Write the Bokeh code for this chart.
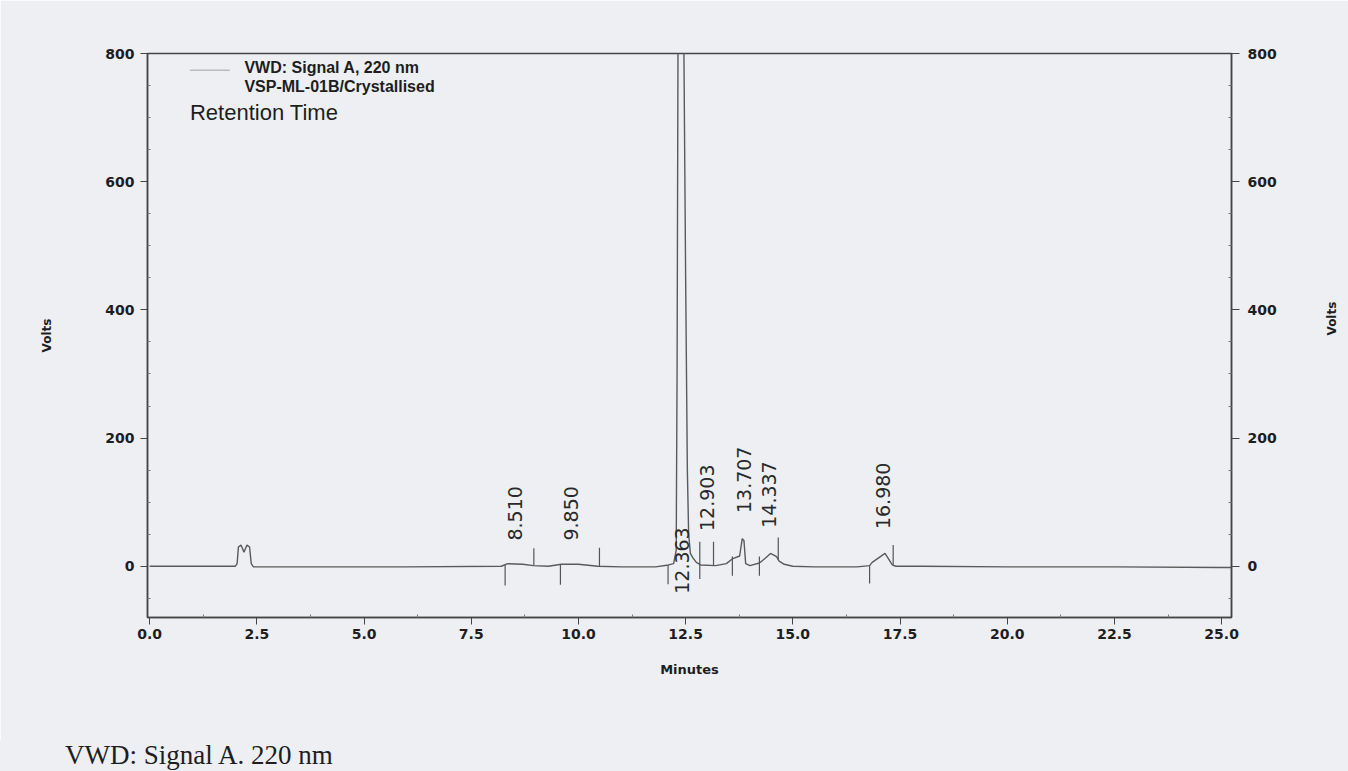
import math
from bokeh.plotting import figure
from bokeh.layouts import column
from bokeh.models import LinearAxis, FixedTicker, Label, Range1d, PrintfTickFormatter, Div
from bokeh.core.properties import value
from bokeh.embed import file_html
from bokeh.resources import INLINE

# ---- data ----
time = [0.0, 2.0, 2.04, 2.07, 2.13, 2.20, 2.27, 2.33, 2.37, 2.42, 4.0, 6.0, 8.2, 8.35, 8.7,
        8.95, 9.3, 9.6, 10.0, 10.45, 11.0, 11.8, 12.1, 12.22, 12.28, 12.30, 12.33, 12.40,
        12.44, 12.46, 12.50, 12.54, 12.57, 12.61, 12.68, 12.75, 12.85, 13.2, 13.45, 13.6,
        13.76, 13.82, 13.86, 13.9, 14.0, 14.22, 14.35, 14.48, 14.62, 14.68, 14.8, 15.0,
        15.5, 16.5, 16.79, 16.85, 17.15, 17.32, 17.4, 18.0, 20.0, 22.5, 25.0, 25.23]
signal = [0, 0, 4, 30, 33, 22, 33, 30, 4, -1, -1, -1, 0, 4, 3,
          1, 0, 3, 3, 0, -1, -1, 2, 4, 25, 300, 1000, 1500,
          1000, 800, 450, 150, 50, 20, 12, 6, 2, 1, 4, 12,
          16, 43, 40, 4, 1, 5, 12, 20, 15, 8, 3, 0,
          -1, -1, 1, 6, 20, 2, 0, 0, -1, -1, -2, -2]

peak_labels = ["8.510", "9.850", "12.363", "12.903", "13.707", "14.337", "16.980"]
peak_label_x = [8.52, 9.83, 12.41, 12.99, 13.85, 14.45, 17.11]
peak_label_y = [40, 40, -43, 55, 83, 60, 58]

start_mark_x = [8.29, 9.58, 12.09, 12.83, 13.59, 14.22, 16.79]
start_mark_top = [2, 2, 2, 38, 15, 15, 1]
start_mark_bottom = [-30, -29, -28, -20, -15, -15, -27]
end_mark_x = [8.96, 10.49, 13.15, 14.66, 17.34]
end_mark_bottom = [1, 0, 1, 10, 2]
end_mark_top = [28, 29, 38, 45, 33]

x_ticks = [0.0, 2.5, 5.0, 7.5, 10.0, 12.5, 15.0, 17.5, 20.0, 22.5, 25.0]
x_minor = [1.25, 3.75, 6.25, 8.75, 11.25, 13.75, 16.25, 18.75, 21.25, 23.75]
y_ticks = [0, 200, 400, 600, 800]
y_minor = [-50, 50, 100, 150, 250, 300, 350, 450, 500, 550, 650, 700, 750]

caption = "VWD: Signal A. 220 nm"

BG = "#edeff3"
AX = "#454545"
TXT = "#1e1e1e"
TICKFONT = "DejaVu Sans"

p = figure(width=1348, height=740, x_range=Range1d(-0.05, 25.23), y_range=Range1d(-80, 800),
           output_backend="svg", toolbar_location=None,
           min_border_left=147, min_border_right=110, min_border_top=53, min_border_bottom=123,
           background_fill_color=BG, border_fill_color=BG)
p.grid.visible = False
p.outline_line_color = AX
p.outline_line_width = 1.5


def style_axis(ax):
    ax.axis_line_color = AX
    ax.axis_line_width = 1.5
    ax.major_tick_line_color = AX
    ax.minor_tick_line_color = "#777777"
    ax.major_label_text_font = TICKFONT
    ax.major_label_text_font_style = "bold"
    ax.major_label_text_font_size = "14px"
    ax.major_label_text_color = TXT
    ax.axis_label_text_font = TICKFONT
    ax.axis_label_text_font_style = "bold"
    ax.axis_label_text_color = TXT


# x axis
xa = p.xaxis[0]
style_axis(xa)
xa.ticker = FixedTicker(ticks=x_ticks, minor_ticks=x_minor)
xa.formatter = PrintfTickFormatter(format="%.1f")
xa.major_tick_out = 7
xa.major_tick_in = 0
xa.minor_tick_out = 0
xa.minor_tick_in = 3
xa.major_label_standoff = 4
xa.axis_label = "Minutes"
xa.axis_label_text_font_size = "13px"
xa.axis_label_standoff = 20

# left y axis
ya = p.yaxis[0]
style_axis(ya)
ya.ticker = FixedTicker(ticks=y_ticks, minor_ticks=y_minor)
ya.major_tick_out = 7
ya.major_tick_in = 0
ya.minor_tick_out = 0
ya.minor_tick_in = 3
ya.major_label_standoff = 6
ya.axis_label = "Volts"
ya.axis_label_text_font_size = "12px"
ya.axis_label_standoff = 48

# right y axis
yr = LinearAxis(ticker=FixedTicker(ticks=y_ticks, minor_ticks=y_minor))
style_axis(yr)
yr.major_tick_out = 8
yr.major_tick_in = 0
yr.minor_tick_out = 0
yr.minor_tick_in = 3
yr.major_label_standoff = 8
yr.axis_label = "Volts"
yr.axis_label_text_font_size = "12px"
yr.axis_label_standoff = 52
yr.axis_label_orientation = math.pi / 2
p.add_layout(yr, "right")

# trace
p.line(time, signal, line_color="#5a5a5a", line_width=1.4)

# integration marks
p.segment(x0=start_mark_x, y0=start_mark_top, x1=start_mark_x, y1=start_mark_bottom,
          line_color="#555555", line_width=1.2)
p.segment(x0=end_mark_x, y0=end_mark_bottom, x1=end_mark_x, y1=end_mark_top,
          line_color="#555555", line_width=1.2)

# retention time labels
p.text(x=peak_label_x, y=peak_label_y, text=peak_labels, angle=math.pi / 2,
       text_align="left", text_baseline="middle",
       text_font=value("DejaVu Sans"), text_font_size="19px", text_color="#2a2a2a")

# header legend
p.line(x=[0.94, 1.87], y=[774, 774], line_color="#a0a0a0", line_width=1)
p.add_layout(Label(x=2.21, y=778, text="VWD: Signal A, 220 nm", text_font="Liberation Sans",
                   text_font_style="bold", text_font_size="16px", text_color=TXT,
                   text_baseline="alphabetic"))
p.add_layout(Label(x=2.21, y=749, text="VSP-ML-01B/Crystallised", text_font="Liberation Sans",
                   text_font_style="bold", text_font_size="16px", text_color=TXT,
                   text_baseline="alphabetic"))
p.add_layout(Label(x=0.94, y=708, text="Retention Time", text_font="Liberation Sans",
                   text_font_size="22px", text_color=TXT, text_baseline="alphabetic"))

# caption strip under the chart
cap = Div(text=('<div style="padding-left:65px;font-family:\'Liberation Serif\';'
                'font-size:27px;line-height:31px;color:%s;white-space:nowrap">%s</div>'
                % (TXT, caption)),
          width=1348, height=31, margin=0,
          styles={"background-color": BG, "overflow": "hidden"})

layout = column(p, cap, spacing=0)

open("out.html", "w").write(file_html(layout, INLINE))
